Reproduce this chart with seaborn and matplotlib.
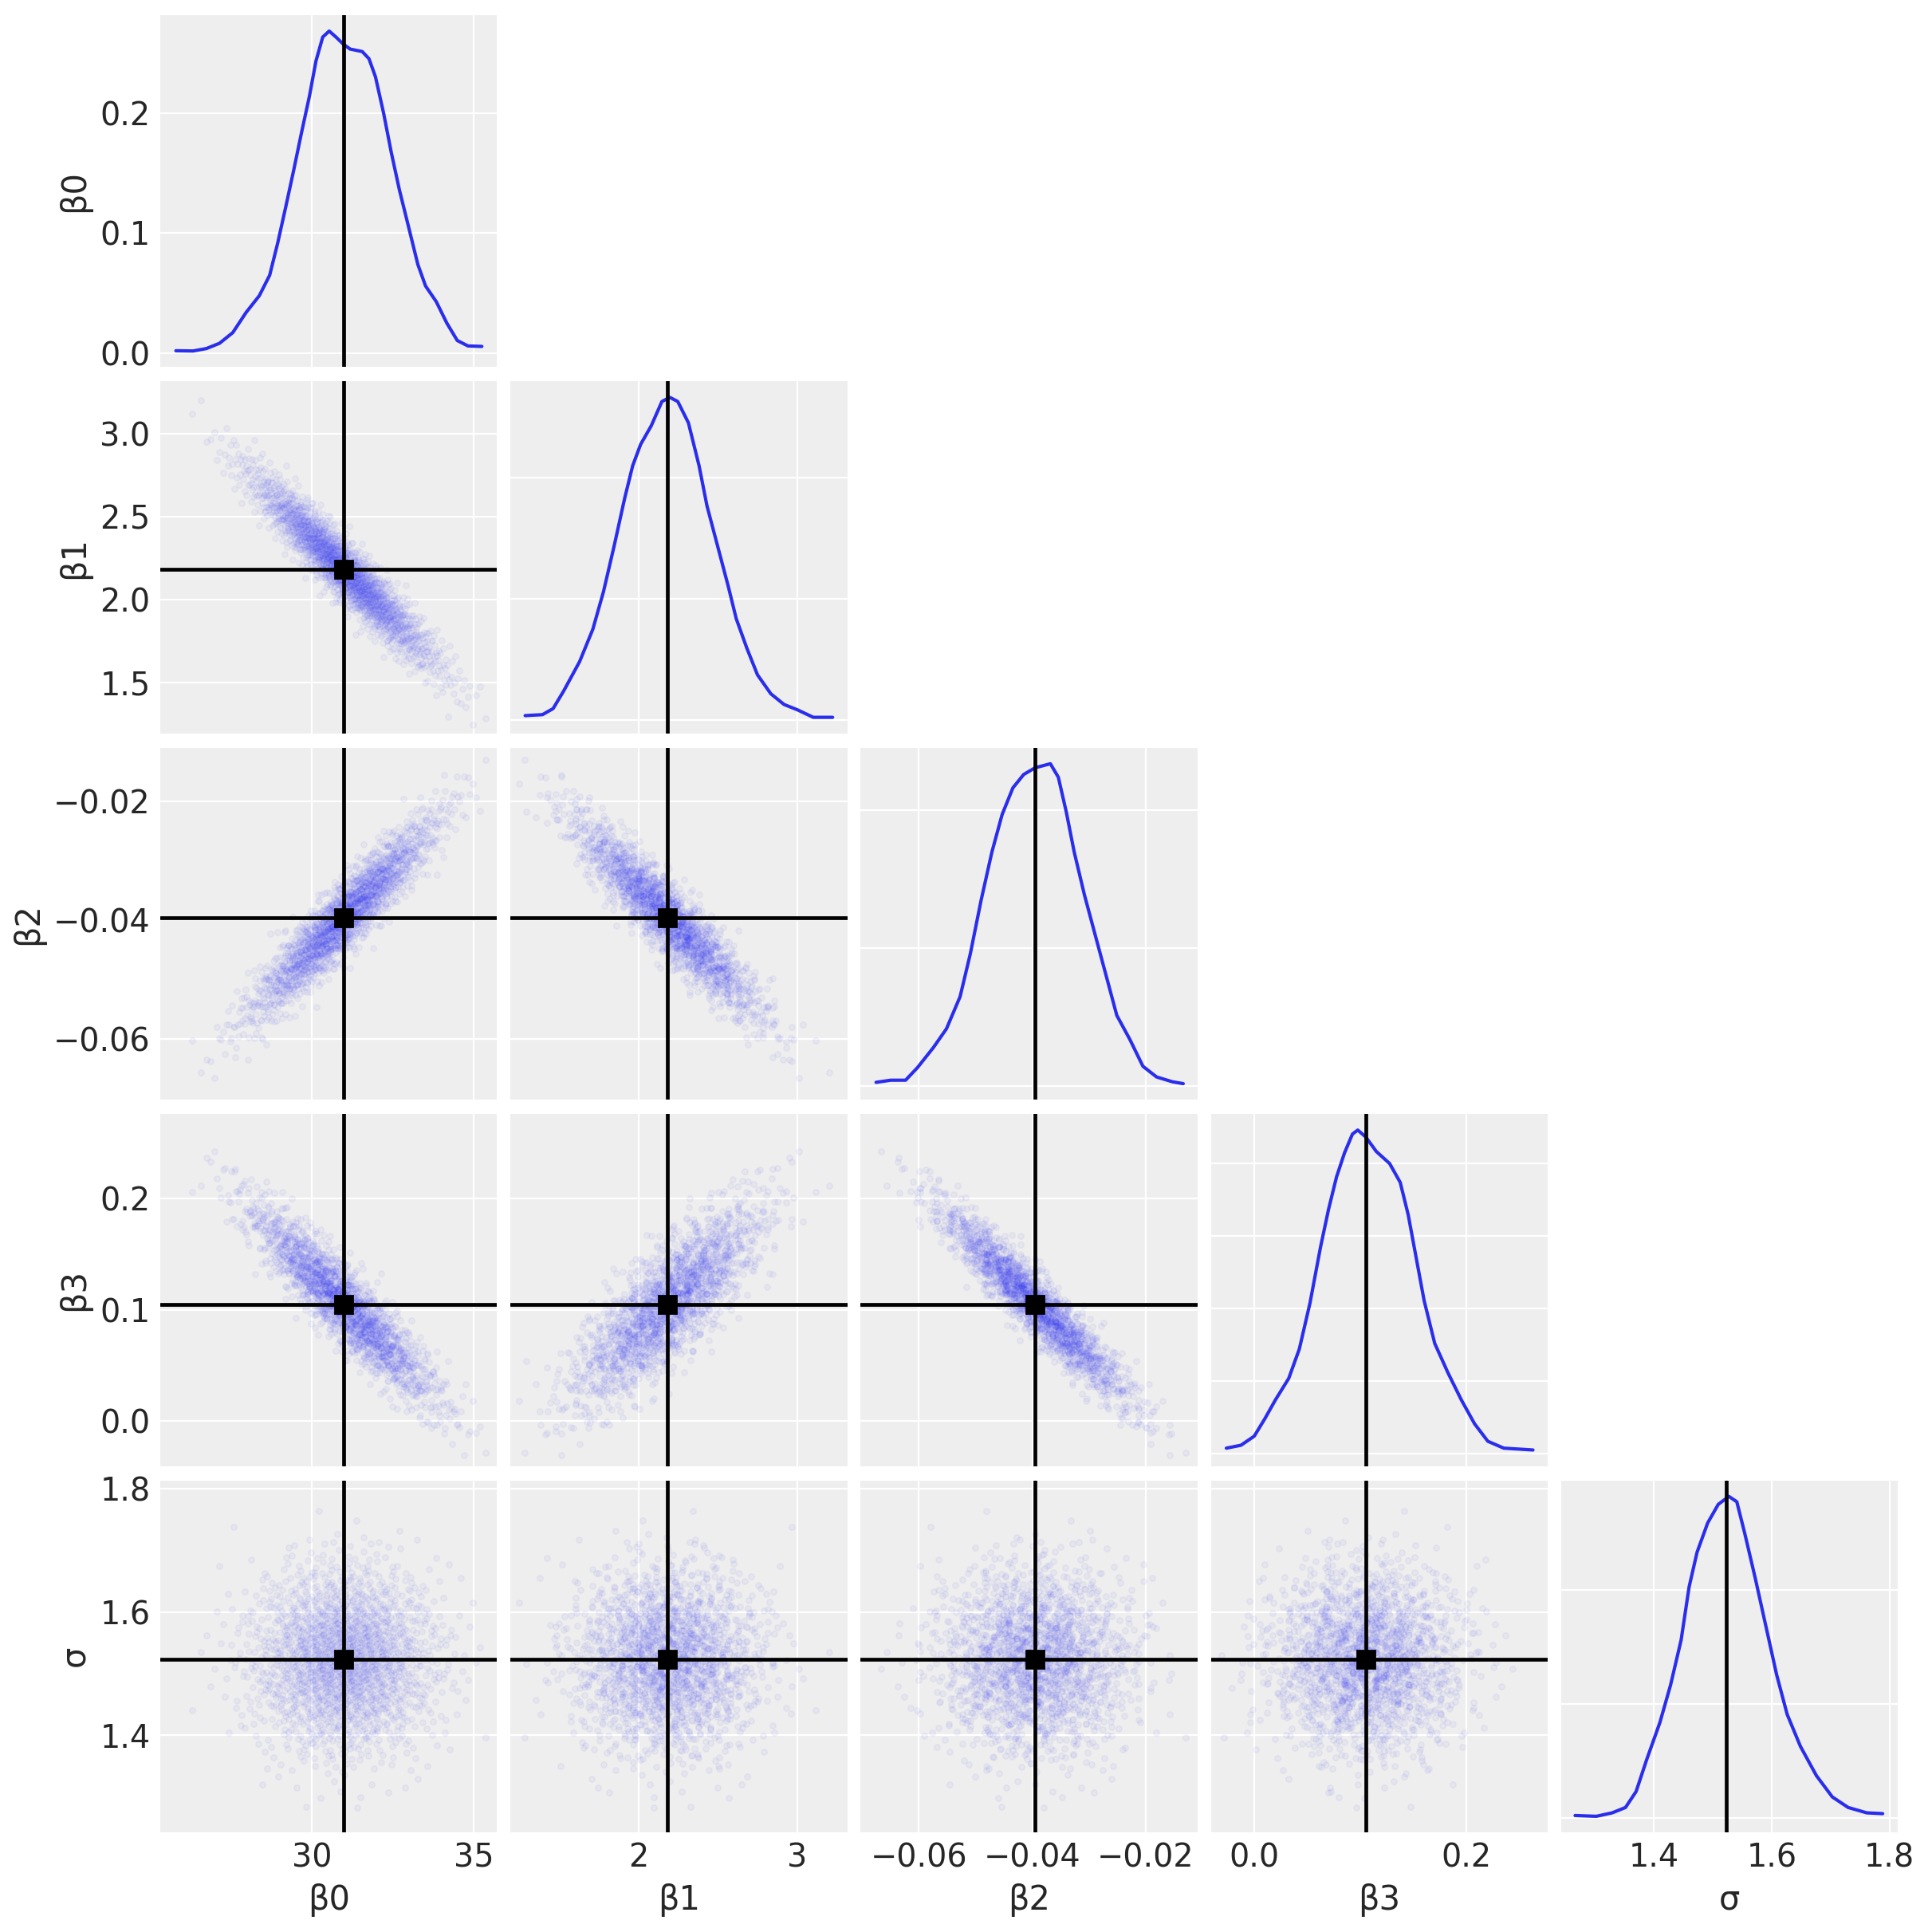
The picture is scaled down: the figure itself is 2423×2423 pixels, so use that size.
import numpy as np
import pandas as pd
import seaborn as sns
import matplotlib
matplotlib.use("Agg")
import matplotlib.pyplot as plt
from statistics import NormalDist

# ---------------- data ----------------
var_names = ["β0", "β1", "β2", "β3", "σ"]
point_estimates = [30.97, 2.18, -0.0395, 0.105, 1.523]
posterior_sd = [1.42, 0.29, 0.0083, 0.044, 0.076]
correlations = [
    [1.00, -0.95, 0.93, -0.92, 0.00],
    [-0.95, 1.00, -0.93, 0.80, 0.00],
    [0.93, -0.93, 1.00, -0.95, 0.00],
    [-0.92, 0.80, -0.95, 1.00, 0.00],
    [0.00, 0.00, 0.00, 0.00, 1.00],
]
n_draws = 2000

kde_b0_x = [25.79, 26.32, 26.73, 27.14, 27.55, 27.96, 28.37, 28.69, 28.94, 29.18, 29.43, 29.67, 29.92, 30.12, 30.33,
            30.53, 30.74, 30.97, 31.18, 31.55, 31.76, 31.96, 32.21, 32.45, 32.70, 32.94, 33.27, 33.51, 33.84, 34.17,
            34.49, 34.82, 35.25]
kde_b0_y = [0.0022, 0.002, 0.004, 0.0084, 0.0173, 0.034, 0.048, 0.065, 0.092, 0.121, 0.152, 0.183, 0.214, 0.243,
            0.263, 0.268, 0.263, 0.257, 0.253, 0.251, 0.245, 0.230, 0.200, 0.167, 0.136, 0.110, 0.074, 0.056, 0.043,
            0.025, 0.0107, 0.0062, 0.0058]
kde_b1_x = [1.286, 1.395, 1.462, 1.528, 1.629, 1.712, 1.779, 1.846, 1.913, 1.963, 2.013, 2.080, 2.147, 2.197, 2.247,
            2.314, 2.381, 2.431, 2.498, 2.565, 2.615, 2.682, 2.749, 2.833, 2.916, 3.0, 3.100, 3.222]
kde_b1_y = [0.017, 0.021, 0.046, 0.118, 0.240, 0.373, 0.528, 0.716, 0.915, 1.048, 1.136, 1.213, 1.313, 1.330, 1.313,
            1.225, 1.048, 0.882, 0.716, 0.550, 0.417, 0.295, 0.185, 0.107, 0.063, 0.041, 0.010, 0.010]
kde_b2_x = [-0.0675, -0.0649, -0.0623, -0.0602, -0.0574, -0.0551, -0.0527, -0.0509, -0.0490, -0.0471, -0.0453,
            -0.0434, -0.0415, -0.0395, -0.0368, -0.0354, -0.0340, -0.0326, -0.0308, -0.0289, -0.0270, -0.0251,
            -0.0228, -0.0205, -0.0181, -0.0153, -0.0134]
kde_b2_y = [0.54, 0.85, 0.85, 2.68, 5.59, 8.31, 12.97, 19.18, 26.95, 33.94, 39.38, 43.26, 45.20, 46.17, 46.76, 44.81,
            39.77, 33.94, 27.73, 21.90, 16.08, 10.25, 6.76, 2.87, 1.32, 0.62, 0.35]
kde_b3_x = [-0.0263, -0.0125, 0.0, 0.01, 0.02, 0.0325, 0.0425, 0.0525, 0.0625, 0.07, 0.0775, 0.085, 0.0925, 0.0975,
            0.105, 0.115, 0.1275, 0.1375, 0.145, 0.1525, 0.16, 0.17, 0.1825, 0.195, 0.2075, 0.22, 0.235, 0.2625]
kde_b3_y = [0.16, 0.24, 0.49, 0.97, 1.49, 2.08, 2.89, 4.15, 5.70, 6.73, 7.62, 8.28, 8.80, 8.91, 8.72, 8.32, 7.99,
            7.47, 6.58, 5.40, 4.22, 3.04, 2.23, 1.49, 0.83, 0.35, 0.16, 0.11]
kde_s_x = [1.2658, 1.3018, 1.3288, 1.3514, 1.3694, 1.3874, 1.4099, 1.4279, 1.4459, 1.4595, 1.4730, 1.4910, 1.5090,
           1.5270, 1.5405, 1.5541, 1.5721, 1.5901, 1.6081, 1.6261, 1.6486, 1.6757, 1.7027, 1.7297, 1.7613, 1.7883]
kde_s_y = [0.037, 0.023, 0.084, 0.178, 0.458, 1.019, 1.673, 2.327, 3.121, 4.056, 4.664, 5.178, 5.505, 5.645, 5.551,
           4.991, 4.196, 3.355, 2.514, 1.813, 1.252, 0.738, 0.364, 0.178, 0.084, 0.070]

axis_limits = [(25.31, 35.72), (1.194, 3.314), (-0.0702, -0.0109), (-0.0408, 0.2763), (1.242, 1.814)]
var_ticks = [[30, 35], [2, 3], [-0.06, -0.04, -0.02], [0.0, 0.2], [1.4, 1.6, 1.8]]
row_ticks = [[0.0, 0.1, 0.2], [1.5, 2.0, 2.5, 3.0], [-0.06, -0.04, -0.02], [0.0, 0.1, 0.2], [1.4, 1.6, 1.8]]
diag_ticks = [[0.0, 0.1, 0.2], [0.0, 0.5, 1.0], [0, 20, 40], [0, 2, 4, 6, 8], [0, 2, 4]]

kde_curves = [(kde_b0_x, kde_b0_y), (kde_b1_x, kde_b1_y), (kde_b2_x, kde_b2_y),
              (kde_b3_x, kde_b3_y), (kde_s_x, kde_s_y)]

# ---------------- draws reconstructed from the read-off summaries ----------------
def halton(i, base):
    f, r = 1.0, 0.0
    while i > 0:
        f /= base
        r += f * (i % base)
        i //= base
    return r

bases = [2, 3, 5, 7, 11]
nd = NormalDist()
z = np.array([[nd.inv_cdf(halton(i + 20, b)) for b in bases] for i in range(n_draws)])
R = np.array(correlations)
w, V = np.linalg.eigh(R)
w = np.clip(w, 2e-3, None)
R = V @ np.diag(w) @ V.T
d = np.sqrt(np.diag(R))
R = R / np.outer(d, d)
L = np.linalg.cholesky(R)
draws = z @ L.T * np.array(posterior_sd) + np.array(point_estimates)
posterior = pd.DataFrame(draws, columns=var_names)

# ---------------- style ----------------
C0 = "#2a2eec"
sns.set_theme(style="darkgrid", rc={
    "axes.facecolor": "#eeeeee",
    "grid.color": "white",
    "grid.linewidth": 0.8,
    "axes.edgecolor": "white",
    "xtick.major.size": 0,
    "ytick.major.size": 0,
    "xtick.major.pad": 4.5,
    "ytick.major.pad": 4.5,
    "xtick.labelsize": 14.3,
    "ytick.labelsize": 14.3,
    "axes.labelsize": 15,
    "text.color": "#262626",
    "axes.labelcolor": "#262626",
    "xtick.color": "#262626",
    "ytick.color": "#262626",
})
plt.rcParams["font.family"] = ["DejaVu Sans"]

n = len(var_names)
fig, axes = plt.subplots(n, n, figsize=(12.115, 12.115), dpi=200)
fig.subplots_adjust(left=0.0830, right=0.9823, top=0.9922, bottom=0.0516, wspace=0.040, hspace=0.041)

for r in range(n):
    for c in range(n):
        ax = axes[r, c]
        if c > r:
            ax.set_visible(False)
            continue
        for s in ax.spines.values():
            s.set_visible(False)
        if r == c:
            kx, ky = kde_curves[r]
            sns.lineplot(x=kx, y=ky, ax=ax, color=C0, linewidth=1.5, sort=False)
            ax.axvline(point_estimates[c], color="black", linewidth=1.7, zorder=3)
            ax.set_yticks(diag_ticks[r])
            if r != 0:
                ax.set_yticklabels([])
        else:
            sns.scatterplot(data=posterior, x=var_names[c], y=var_names[r], ax=ax, color=C0,
                            edgecolor=C0, alpha=0.045, s=7, linewidth=0.65, legend=False, zorder=1)
            ax.axvline(point_estimates[c], color="black", linewidth=1.7, zorder=3)
            ax.axhline(point_estimates[r], color="black", linewidth=1.7, zorder=3)
            ax.plot([point_estimates[c]], [point_estimates[r]], marker="s", color="black",
                    markersize=8, zorder=4, linestyle="none")
            ax.set_ylim(axis_limits[r])
            ax.set_yticks(row_ticks[r])
            if c != 0:
                ax.set_yticklabels([])
        ax.set_xlim(axis_limits[c])
        ax.set_xticks(var_ticks[c])
        if r != n - 1:
            ax.set_xticklabels([])
        ax.set_xlabel(var_names[c] if r == n - 1 else "")
        ax.set_ylabel(var_names[r] if c == 0 else "")

fig.savefig("out.png", dpi=200)
